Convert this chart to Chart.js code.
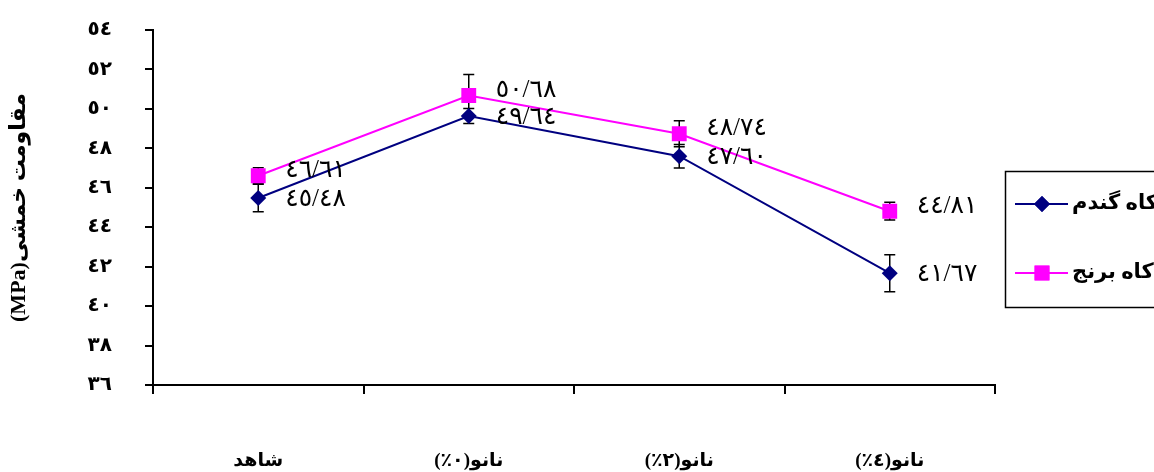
<!DOCTYPE html>
<html>
<head>
<meta charset="utf-8">
<script src="https://cdn.jsdelivr.net/npm/chart.js@4/dist/chart.umd.min.js"></script>
<style>
  body { margin: 0; background: #fff; }
</style>
</head>
<body>
<canvas id="grafico" width="1154" height="472" dir="rtl"></canvas>
<script>
// data
var categorias = ['شاهد', 'نانو(٠٪)', 'نانو(٢٪)', 'نانو(٤٪)']
var seriesNomes = ['کاه گندم', 'کاه برنج']
var gandom = [45.48, 49.64, 47.60, 41.67]
var berenj = [46.61, 50.68, 48.74, 44.81]
var gandomErro = [0.7, 0.38, 0.6, 0.94]
var berenjErro = [0.4, 1.07, 0.66, 0.45]
var gandomRotulos = ['٤٥/٤٨', '٤٩/٦٤', '٤٧/٦٠', '٤١/٦٧']
var berenjRotulos = ['٤٦/٦١', '٥٠/٦٨', '٤٨/٧٤', '٤٤/٨١']
var yTicks = { 36: '٣٦', 38: '٣٨', 40: '٤٠', 42: '٤٢', 44: '٤٤', 46: '٤٦', 48: '٤٨', 50: '٥٠', 52: '٥٢', 54: '٥٤' }
var yTitulo = 'مقاومت خمشی(MPa)'

var fonteSerif = '"Liberation Serif", "DejaVu Sans", serif'

//barras de erro, rotulos e legenda
var extras = {
  id: 'extras',
  beforeDatasetsDraw(chart) {
    var ctx = chart.ctx
    var y = chart.scales.y
    ctx.save()
    ctx.strokeStyle = '#000'
    ctx.lineWidth = 1.5
    chart.data.datasets.forEach((ds, i) => {
      var meta = chart.getDatasetMeta(i)
      meta.data.forEach((pt, j) => {
        var v = ds.data[j], e = ds.erro[j]
        var y1 = y.getPixelForValue(v + e), y2 = y.getPixelForValue(v - e)
        ctx.beginPath()
        ctx.moveTo(pt.x, y1); ctx.lineTo(pt.x, y2)
        ctx.moveTo(pt.x - 5.5, y1); ctx.lineTo(pt.x + 5.5, y1)
        ctx.moveTo(pt.x - 5.5, y2); ctx.lineTo(pt.x + 5.5, y2)
        ctx.stroke()
      })
    })
    ctx.restore()
  },
  afterDraw(chart) {
    var ctx = chart.ctx
    ctx.save()
    ctx.fillStyle = '#000'
    ctx.font = '25px ' + fonteSerif
    ctx.textAlign = 'left'
    ctx.textBaseline = 'middle'
    ctx.direction = 'ltr'
    chart.data.datasets.forEach((ds, i) => {
      var meta = chart.getDatasetMeta(i)
      var dy = i == 0 ? 1 : -5
      meta.data.forEach((pt, j) => {
        ctx.fillText(ds.rotulos[j], pt.x + 27, pt.y + dy)
      })
    })

    // legenda
    ctx.strokeStyle = '#000'
    ctx.lineWidth = 1.5
    ctx.strokeRect(1005.5, 171.5, 160, 136)
    var linhas = [204, 273]
    chart.data.datasets.forEach((ds, i) => {
      var ly = linhas[i]
      ctx.strokeStyle = ds.borderColor
      ctx.lineWidth = ds.borderWidth
      ctx.beginPath()
      ctx.moveTo(1015, ly); ctx.lineTo(1068, ly)
      ctx.stroke()
      ctx.fillStyle = ds.borderColor
      Chart.helpers.drawPoint(ctx, {
        pointStyle: ds.pointStyle, radius: ds.pointRadius, borderWidth: 0, rotation: 0
      }, 1042, ly)
      ctx.fill()
      ctx.fillStyle = '#000'
      ctx.font = 'bold 21px ' + fonteSerif
      ctx.direction = 'rtl'
      ctx.textAlign = 'left'
      ctx.fillText(ds.label, 1072, ly)
    })
    ctx.restore()
  }
}

new Chart(document.getElementById('grafico'), {
  type: 'line',
  data: {
    labels: categorias,
    datasets: [{
      label: seriesNomes[0],
      data: gandom,
      erro: gandomErro,
      rotulos: gandomRotulos,
      borderColor: '#000080',
      backgroundColor: '#000080',
      borderWidth: 2,
      pointStyle: 'rectRot',
      pointRadius: 8,
      pointBorderWidth: 0
    }, {
      label: seriesNomes[1],
      data: berenj,
      erro: berenjErro,
      rotulos: berenjRotulos,
      borderColor: '#ff00ff',
      backgroundColor: '#ff00ff',
      borderWidth: 2,
      pointStyle: 'rect',
      pointRadius: 10.5,
      pointBorderWidth: 0
    }]
  },
  options: {
    responsive: false,
    animation: false,
    devicePixelRatio: 1,
    layout: { autoPadding: false, padding: { left: 0, top: 30, right: 159, bottom: 0 } },
    plugins: { legend: { display: false }, tooltip: { enabled: false } },
    scales: {
      x: {
        offset: true,
        afterFit: s => { s.height = 87; s.paddingLeft = 0; s.paddingRight = 0 },
        border: { color: '#000', width: 2 },
        grid: { offset: true, drawOnChartArea: false, color: '#000', tickLength: 9, lineWidth: 2 },
        ticks: { color: '#000', padding: 56, maxRotation: 0, font: { family: fonteSerif, size: 19, weight: 'bold' } }
      },
      y: {
        min: 36,
        max: 54,
        afterFit: s => { s.width = 153; s.paddingTop = 0; s.paddingBottom = 0 },
        border: { color: '#000', width: 2 },
        grid: { drawOnChartArea: false, color: '#000', tickLength: 8, lineWidth: 2 },
        ticks: {
          stepSize: 2,
          color: '#000',
          padding: 33,
          font: { family: fonteSerif, size: 20, weight: 'bold' },
          callback: v => yTicks[v]
        },
        title: {
          display: true,
          text: yTitulo,
          color: '#000',
          padding: { top: 6, bottom: 0 },
          font: { family: fonteSerif, size: 22, weight: 'bold' }
        }
      }
    }
  },
  plugins: [extras]
})
</script>
</body>
</html>
